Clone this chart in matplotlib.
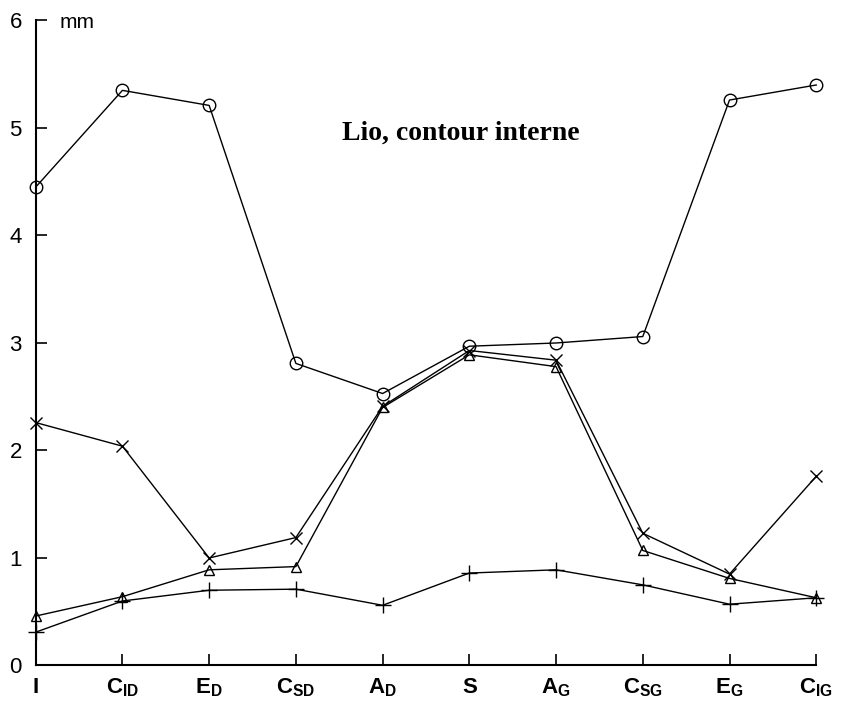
import matplotlib.pyplot as plt
import numpy as np

# positions le long du contour
labels = ['I', r'C$_\mathregular{ID}$', r'E$_\mathregular{D}$', r'C$_\mathregular{SD}$', r'A$_\mathregular{D}$',
          'S', r'A$_\mathregular{G}$', r'C$_\mathregular{SG}$', r'E$_\mathregular{G}$', r'C$_\mathregular{IG}$']

# valeurs lues (mm)
circles   = [4.45, 5.35, 5.21, 2.81, 2.53, 2.97, 3.00, 3.06, 5.26, 5.40]
crosses   = [2.26, 2.04, 1.00, 1.19, 2.41, 2.93, 2.84, 1.23, 0.85, 1.76]
triangles = [0.46, 0.64, 0.89, 0.92, 2.40, 2.89, 2.78, 1.07, 0.81, 0.63]
pluses    = [0.31, 0.60, 0.70, 0.71, 0.56, 0.86, 0.89, 0.75, 0.57, 0.63]

x = np.arange(len(labels))

fig = plt.figure(figsize=(8.42, 7.04), dpi=100)
ax = fig.add_axes([0.0424, 0.0547, 0.927, 0.9162])

ax.plot(x, circles, '-', color='black', lw=1, marker='o', ms=9, mfc='none', mew=1, clip_on=False)
ax.plot(x, crosses, '-', color='black', lw=1, marker='x', ms=8, mew=1, clip_on=False)
ax.plot(x, triangles, '-', color='black', lw=1, marker='^', ms=7, mfc='none', mew=1, clip_on=False)
ax.plot(x, pluses, '-', color='black', lw=1, marker='+', ms=11, mew=1, clip_on=False)

ax.set_xlim(0, 9)
ax.set_ylim(0, 6)
ax.set_xticks(x)
ax.set_xticklabels(labels)
ax.set_yticks(range(7))

for s in ['top', 'right']:
    ax.spines[s].set_visible(False)
for s in ['left', 'bottom']:
    ax.spines[s].set_linewidth(1.5)

ax.tick_params(direction='in', length=8, width=1.2, labelsize=16)
ax.tick_params(axis='y', pad=10)
ax.tick_params(axis='x', pad=8)
for t in ax.get_xticklabels() + ax.get_yticklabels():
    t.set_family(['Liberation Sans Narrow', 'Liberation Sans'])
for t in ax.get_xticklabels():
    t.set_fontweight('bold')

ax.text(0.28, 5.98, 'mm', fontsize=15, family='Liberation Sans', va='center', ha='left')
ax.text(4.9, 4.95, 'Lio, contour interne', fontsize=20, family='Liberation Serif',
        fontweight='bold', ha='center', va='center')

fig.savefig('out.png', dpi=100)
